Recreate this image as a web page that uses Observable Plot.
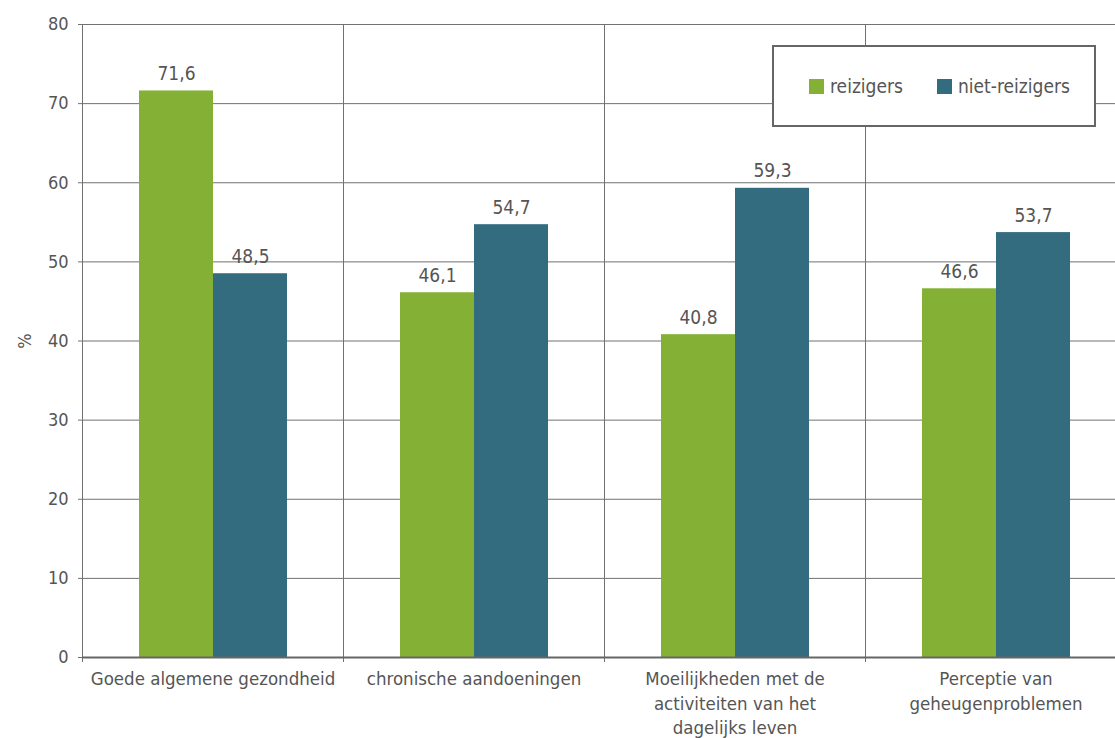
<!DOCTYPE html>
<html>
<head>
<meta charset="utf-8">
<script src="https://cdn.jsdelivr.net/npm/d3@7"></script>
<script src="https://cdn.jsdelivr.net/npm/@observablehq/plot@0.6"></script>
<style>
  body { margin: 0; background: #fff; overflow: hidden; }
  #chart { position: relative; width: 1115px; height: 738px; overflow: hidden; font-family: "Liberation Sans Narrow", "DejaVu Sans Condensed", sans-serif; }
  #chart svg { overflow: visible; }
  .legend { position: absolute; left: 772px; top: 45px; width: 320px; height: 78px; border: 2px solid #666; background: #fff; }
  .item { position: absolute; top: 0; height: 78px; display: flex; align-items: center; font-size: 19px; color: #555; }
  .sw { width: 15px; height: 15px; margin-right: 6px; }
</style>
</head>
<body>
<div id="chart"></div>
<script>
const categories = [
  "Goede algemene gezondheid",
  "chronische aandoeningen",
  "Moeilijkheden met de\nactiviteiten van het\ndagelijks leven",
  "Perceptie van\ngeheugenproblemen"
];
const groups = ["reizigers", "niet-reizigers"];
const reizigers = [71.6, 46.1, 40.8, 46.6];
const nietReizigers = [48.5, 54.7, 59.3, 53.7];
const colors = ["#84b135", "#336b7f"];
const yTicks = [0, 10, 20, 30, 40, 50, 60, 70, 80];

const data = categories.flatMap((cat, i) => [
  {cat, group: groups[0], value: reizigers[i]},
  {cat, group: groups[1], value: nietReizigers[i]}
]);

const fmt = v => v.toFixed(1).replace(".", ",");
const font = "\"Liberation Sans Narrow\", \"DejaVu Sans Condensed\", sans-serif";

const chart = Plot.plot({
  width: 1115,
  height: 738,
  marginLeft: 82,
  marginRight: 0,
  marginTop: 24,
  marginBottom: 81,
  style: {fontFamily: font, fontSize: "18px", color: "#555", background: "#fff"},
  // the last category band runs a little past the right edge of the page
  fx: {domain: categories, padding: 0, range: [82, 1126], label: null, axis: null},
  x: {domain: groups, paddingInner: 0, paddingOuter: 0.75, axis: null},
  y: {domain: [0, 80], axis: null},
  color: {domain: groups, range: colors},
  marks: [
    Plot.gridY(yTicks, {stroke: "#717171", strokeOpacity: 1}),
    Plot.frame({anchor: "left", stroke: "#717171", insetBottom: -4}),
    Plot.axisY(yTicks, {
      tickSize: 4, tickPadding: 10, fontSize: 18, stroke: "#717171",
      label: "%", labelAnchor: "center", labelArrow: "none", labelOffset: 64
    }),
    Plot.barY(data, {fx: "cat", x: "group", y: "value", fill: "group"}),
    Plot.text(data, {
      fx: "cat", x: "group", y: "value", text: d => fmt(d.value),
      dy: -11, lineAnchor: "bottom", fontSize: 19, fill: "#555"
    }),
    Plot.ruleY([0], {stroke: "#666", strokeWidth: 2}),
    Plot.axisFx({anchor: "bottom", tickSize: 0, tickPadding: 10, lineHeight: 1.33, fontSize: 18.5, label: null})
  ]
});

const root = document.getElementById("chart");
root.appendChild(chart);

// Legend box overlaid in the top-right corner of the plot
const legend = document.createElement("div");
legend.className = "legend";
[[groups[0], colors[0], 35], [groups[1], colors[1], 163]].forEach(([name, color, left]) => {
  const item = document.createElement("div");
  item.className = "item";
  item.style.left = left + "px";
  const sw = document.createElement("span");
  sw.className = "sw";
  sw.style.background = color;
  item.appendChild(sw);
  item.appendChild(document.createTextNode(name));
  legend.appendChild(item);
});
root.appendChild(legend);
</script>
</body>
</html>
